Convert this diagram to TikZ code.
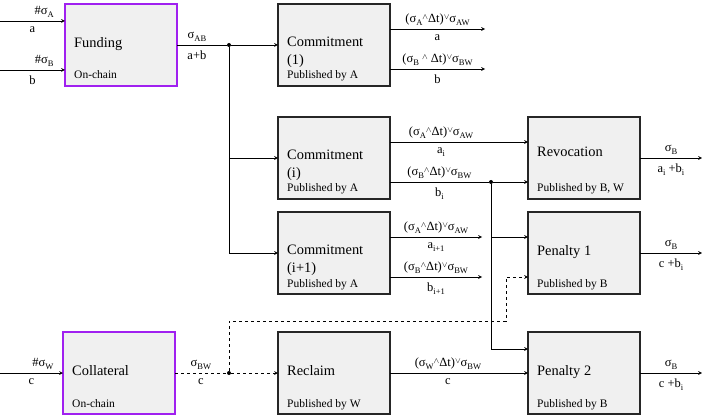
\documentclass[tikz,border=0pt]{standalone}
\usepackage{fontspec}
\setmainfont{Liberation Serif}
\usepackage{tikz}
\usetikzlibrary{arrows, positioning}
\definecolor{chainviolet}{RGB}{160,32,240}
\definecolor{boxgray}{RGB}{240,240,240}
\newcommand{\lowidx}[1]{\raisebox{-3pt}{\fontsize{8.5}{9}\selectfont #1}}
\newcommand{\sg}[1]{σ\lowidx{#1}}
\newcommand{\andsym}{\raisebox{3pt}{\fontsize{8}{8}\selectfont$\wedge$}}
\newcommand{\orsym}{\raisebox{3pt}{\fontsize{8}{8}\selectfont$\vee$}}
\tikzset{
    block/.style={rectangle, minimum width=112pt, minimum height=82pt, outer sep=0pt, draw=black!85, line width=1.6pt, fill=boxgray},
    chainblock/.style={block, draw=chainviolet},
    title/.style={anchor=north west, inner sep=0pt, align=left, font=\fontsize{14.4}{18}\selectfont},
    note/.style={anchor=base west, inner sep=0pt, font=\fontsize{11.5}{13}\selectfont},
    lbl/.style={font=\fontsize{12.5}{14}\selectfont, inner sep=3pt},
    over/.style={lbl, above},
    under/.style={lbl, below, yshift=-2pt},
    line/.style={line width=0.7pt},
    arrow/.style={line, ->, >=stealth},
    dashline/.style={line, dashed},
    dasharrow/.style={arrow, dashed},
    junction/.style={circle, fill=black, inner sep=0pt, minimum size=4pt}
}

\begin{document}
\begin{tikzpicture}[x=1pt, y=-1pt]
    \useasboundingbox (0,0) rectangle (702,417);

    % blocks
    \node (fund) [chainblock] at (121,45) {};
    \node (com1) [block, right=101pt of fund] {};
    \node (comi) [block, below=31pt of com1] {};
    \node (comj) [block, below=13pt of comi] {};
    \node (revo) [block, right=138pt of comi] {};
    \node (pen1) [block, right=138pt of comj] {};
    \node (recl) [block, below=38pt of comj] {};
    \node (pen2) [block, right=138pt of recl] {};
    \node (coll) [chainblock, left=103pt of recl] {};

    % block texts
    \node [title] at ([xshift=9pt, yshift=-33pt]fund.north west) {Funding};
    \node [note] at ([xshift=9pt, yshift=7pt]fund.south west) {On-chain};
    \node [title] at ([xshift=9pt, yshift=-33pt]com1.north west) {Commitment\\(1)};
    \node [note] at ([xshift=9pt, yshift=7pt]com1.south west) {Published by A};
    \node [title] at ([xshift=9pt, yshift=-33pt]comi.north west) {Commitment\\(i)};
    \node [note] at ([xshift=9pt, yshift=7pt]comi.south west) {Published by A};
    \node [title] at ([xshift=9pt, yshift=-33pt]comj.north west) {Commitment\\(i+1)};
    \node [note] at ([xshift=9pt, yshift=7pt]comj.south west) {Published by A};
    \node [title] at ([xshift=9pt, yshift=-30pt]revo.north west) {Revocation};
    \node [note] at ([xshift=9pt, yshift=7pt]revo.south west) {Published by B, W};
    \node [title] at ([xshift=9pt, yshift=-33pt]pen1.north west) {Penalty 1};
    \node [note] at ([xshift=9pt, yshift=7pt]pen1.south west) {Published by B};
    \node [title] at ([xshift=9pt, yshift=-33pt]coll.north west) {Collateral};
    \node [note] at ([xshift=9pt, yshift=7pt]coll.south west) {On-chain};
    \node [title] at ([xshift=9pt, yshift=-33pt]recl.north west) {Reclaim};
    \node [note] at ([xshift=9pt, yshift=7pt]recl.south west) {Published by W};
    \node [title] at ([xshift=9pt, yshift=-33pt]pen2.north west) {Penalty 2};
    \node [note] at ([xshift=9pt, yshift=7pt]pen2.south west) {Published by B};

    % junctions and free ends
    \node (split1) [junction] at (229,45) {};
    \node (split2) [junction] at (491,182) {};
    \node (split3) [junction] at (229,373) {};
    \coordinate (inA) at (0,21);
    \coordinate (inB) at (0,70);
    \coordinate (inW) at (0,373);
    \coordinate (c1a) at ([xshift=95pt, yshift=16pt]com1.east);
    \coordinate (c1b) at ([xshift=95pt, yshift=-24pt]com1.east);
    \coordinate (cja) at ([xshift=92pt, yshift=16pt]comj.east);
    \coordinate (cjb) at ([xshift=92pt, yshift=-24pt]comj.east);
    \coordinate (bend) at (506,321);
    \coordinate (outR) at (702,158);
    \coordinate (outP1) at (702,253);
    \coordinate (outP2) at (702,373);

    % funding
    \draw [arrow] (inA) -- node[over, pos=0.68] {\#\sg{A}} node[under, pos=0.5] {a} (inA -| fund.west);
    \draw [arrow] (inB) -- node[over, pos=0.68] {\#\sg{B}} node[under, pos=0.5] {b} (inB -| fund.west);
    \draw [line] (fund) -- node[over, pos=0.4] {\sg{AB}} node[under, pos=0.4] {a+b} (split1);
    \draw [arrow] (split1) -- (com1);
    \draw [arrow] (split1) |- (comi);
    \draw [arrow] (split1) |- (comj);

    % commitment outputs
    \draw [arrow] ([yshift=16pt]com1.east) -- node[over] {(\sg{A}\andsym Δt)\orsym\sg{AW}} node[under] {a} (c1a);
    \draw [arrow] ([yshift=-24pt]com1.east) -- node[over] {(\sg{B} \andsym{} Δt)\orsym\sg{BW}} node[under] {b} (c1b);
    \draw [arrow] ([yshift=16pt]comi.east) -- node[over, pos=0.37] {(\sg{A}\andsym Δt)\orsym\sg{AW}} node[under, pos=0.37] {a\lowidx{i}} ([yshift=16pt]revo.west);
    \draw [line] ([yshift=-24pt]comi.east) -- node[over, pos=0.5] {(\sg{B}\andsym Δt)\orsym\sg{BW}} node[under, pos=0.5] {b\lowidx{i}} (split2);
    \draw [arrow] (split2) -- ([yshift=-24pt]revo.west);
    \draw [arrow] (split2) |- ([yshift=16pt]pen1.west);
    \draw [arrow] (split2) |- ([yshift=24pt]pen2.west);
    \draw [arrow] ([yshift=16pt]comj.east) -- node[over] {(\sg{A}\andsym Δt)\orsym\sg{AW}} node[under] {a\lowidx{i+1}} (cja);
    \draw [arrow] ([yshift=-24pt]comj.east) -- node[over] {(\sg{B}\andsym Δt)\orsym\sg{BW}} node[under] {b\lowidx{i+1}} (cjb);

    % collateral
    \draw [arrow] (inW) -- node[over, pos=0.68] {\#\sg{W}} node[under, pos=0.5] {c} (coll);
    \draw [dashline] (coll) -- node[over] {\sg{BW}} node[under] {c} (split3);
    \draw [dasharrow] (split3) -- (recl);
    \draw [dasharrow] (split3) |- (bend) |- ([yshift=-24pt]pen1.west);
    \draw [arrow] (recl) -- node[over, pos=0.42] {(\sg{W}\andsym Δt)\orsym\sg{BW}} node[under, pos=0.42] {c} (pen2);

    % outputs
    \draw [arrow] (revo) -- node[over] {\sg{B}} node[under] {a\lowidx{i} +b\lowidx{i}} (outR);
    \draw [arrow] (pen1) -- node[over] {\sg{B}} node[under] {c +b\lowidx{i}} (outP1);
    \draw [arrow] (pen2) -- node[over] {\sg{B}} node[under] {c +b\lowidx{i}} (outP2);
\end{tikzpicture}
\end{document}
